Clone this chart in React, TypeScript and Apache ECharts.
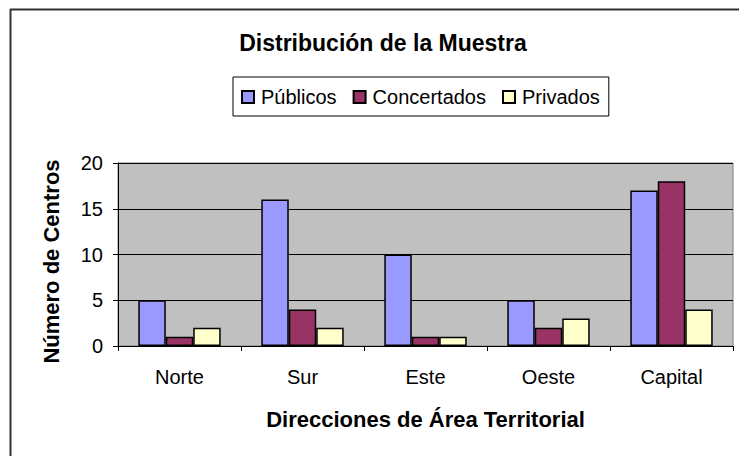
import React, { useEffect, useRef } from "react";
import * as echarts from "echarts";

const categories = ["Norte", "Sur", "Este", "Oeste", "Capital"];
const publicos = [5, 16, 10, 5, 17];
const concertados = [1, 4, 1, 2, 18];
const privados = [2, 2, 1, 3, 4];
const seriesNames = ["Públicos", "Concertados", "Privados"];
const yTicks = { min: 0, max: 20, interval: 5 };

const FONT = "'Liberation Sans', Arial, sans-serif";

export default function App() {
  const ref = useRef<HTMLDivElement>(null);
  useEffect(() => {
    document.body.style.margin = "0";
    const chart = echarts.init(ref.current!, null, { renderer: "svg" });
    const barStyle = (color: string) => ({
      color,
      borderColor: "#000",
      borderWidth: 1.5,
    });
    chart.setOption({
      animation: false,
      backgroundColor: "#fff",
      textStyle: { fontFamily: FONT, color: "#000" },
      title: {
        text: "Distribución de la Muestra",
        left: 378,
        top: 26,
        textAlign: "center",
        textStyle: { fontSize: 23, fontWeight: "bold", color: "#000", fontFamily: FONT },
      },
      legend: {
        data: seriesNames,
        left: 233,
        top: 77,
        orient: "horizontal",
        icon: "rect",
        itemWidth: 12,
        itemHeight: 12,
        itemGap: 16,
        backgroundColor: "#fff",
        borderColor: "#000",
        borderWidth: 1,
        padding: [10, 9, 9, 8],
        textStyle: { fontSize: 20, color: "#000", fontFamily: FONT, padding: [0, 0, 0, 2] },
      },
      grid: {
        left: 118,
        right: 6,
        top: 163,
        bottom: 110,
        show: true,
        backgroundColor: "#C0C0C0",
        borderColor: "#808080",
        borderWidth: 1,
      },
      xAxis: {
        type: "category",
        data: categories,
        name: "Direcciones de Área Territorial",
        nameLocation: "middle",
        nameGap: 62,
        nameTextStyle: { fontSize: 22, fontWeight: "bold", color: "#000", fontFamily: FONT },
        axisLine: { show: true, lineStyle: { color: "#000", width: 1 } },
        axisTick: { show: true, alignWithLabel: false, length: 5, lineStyle: { color: "#000" } },
        axisLabel: { fontSize: 20, color: "#000", margin: 21, fontFamily: FONT },
      },
      yAxis: {
        type: "value",
        min: yTicks.min,
        max: yTicks.max,
        interval: yTicks.interval,
        name: "Número de Centros",
        nameLocation: "middle",
        nameGap: 56,
        nameRotate: 90,
        nameTextStyle: { fontSize: 22, fontWeight: "bold", color: "#000", fontFamily: FONT, padding: [0, 14, 0, 0] },
        axisLine: { show: true, lineStyle: { color: "#000", width: 1 } },
        axisTick: { show: true, length: 5, lineStyle: { color: "#000" } },
        axisLabel: { fontSize: 20, color: "#000", margin: 15, fontFamily: FONT },
        splitLine: { show: true, lineStyle: { color: "#000", width: 1 } },
      },
      graphic: [
        { type: "line", shape: { x1: 10, y1: 9.5, x2: 739, y2: 9.5 }, style: { stroke: "#333", lineWidth: 2 } },
        { type: "line", shape: { x1: 10.5, y1: 9, x2: 10.5, y2: 456 }, style: { stroke: "#333", lineWidth: 2 } },
      ],
      series: [
        { name: seriesNames[0], type: "bar", data: publicos, barGap: "0%", barCategoryGap: "33%", itemStyle: barStyle("#9999FF") },
        { name: seriesNames[1], type: "bar", data: concertados, barGap: "0%", barCategoryGap: "33%", itemStyle: barStyle("#993366") },
        { name: seriesNames[2], type: "bar", data: privados, barGap: "0%", barCategoryGap: "33%", itemStyle: barStyle("#FFFFCC") },
      ],
    });
    return () => chart.dispose();
  }, []);
  return <div ref={ref} style={{ width: 739, height: 456 }} />;
}
